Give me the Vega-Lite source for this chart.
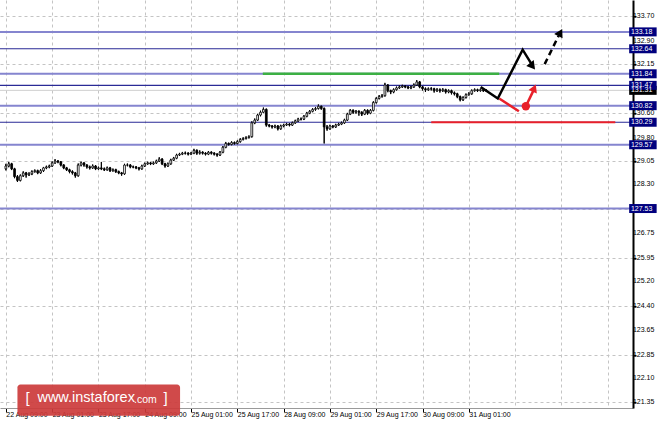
{
  "$schema": "https://vega.github.io/schema/vega-lite/v6.json",
  "width": 633,
  "height": 408,
  "autosize": {"type": "none"},
  "padding": {"left": 0, "top": 0, "right": 32, "bottom": 18},
  "background": "white",
  "config": {"view": {"stroke": null}, "font": "Liberation Sans", "axis": {"title": null}},
  "datasets": {
    "one": [{}],
    "yticks": [{"v":133.70},{"v":132.90},{"v":132.15},{"v":130.60},{"v":129.80},{"v":129.05},{"v":128.30},{"v":126.75},{"v":125.95},{"v":125.20},{"v":124.40},{"v":123.65},{"v":122.85},{"v":122.10},{"v":121.35}],
    "candles": [
      {"i":0,"o":128.80,"h":128.96,"l":128.75,"c":128.89},
      {"i":1,"o":128.89,"h":129.02,"l":128.85,"c":128.96},
      {"i":2,"o":128.96,"h":128.99,"l":128.76,"c":128.80},
      {"i":3,"o":128.80,"h":128.83,"l":128.50,"c":128.55},
      {"i":4,"o":128.55,"h":128.60,"l":128.38,"c":128.43},
      {"i":5,"o":128.43,"h":128.62,"l":128.40,"c":128.58},
      {"i":6,"o":128.58,"h":128.72,"l":128.54,"c":128.67},
      {"i":7,"o":128.67,"h":128.70,"l":128.52,"c":128.61},
      {"i":8,"o":128.61,"h":128.69,"l":128.57,"c":128.64},
      {"i":9,"o":128.64,"h":128.75,"l":128.60,"c":128.71},
      {"i":10,"o":128.71,"h":128.78,"l":128.68,"c":128.74},
      {"i":11,"o":128.74,"h":128.77,"l":128.63,"c":128.67},
      {"i":12,"o":128.67,"h":128.79,"l":128.64,"c":128.74},
      {"i":13,"o":128.74,"h":128.86,"l":128.70,"c":128.83},
      {"i":14,"o":128.83,"h":128.90,"l":128.79,"c":128.86},
      {"i":15,"o":128.86,"h":128.93,"l":128.82,"c":128.89},
      {"i":16,"o":128.89,"h":129.04,"l":128.86,"c":128.99},
      {"i":17,"o":128.99,"h":129.11,"l":128.96,"c":129.05},
      {"i":18,"o":129.05,"h":129.08,"l":128.98,"c":129.02},
      {"i":19,"o":129.02,"h":129.05,"l":128.88,"c":128.92},
      {"i":20,"o":128.92,"h":128.95,"l":128.79,"c":128.83},
      {"i":21,"o":128.83,"h":128.86,"l":128.73,"c":128.77},
      {"i":22,"o":128.77,"h":128.80,"l":128.66,"c":128.71},
      {"i":23,"o":128.71,"h":128.75,"l":128.62,"c":128.67},
      {"i":24,"o":128.67,"h":128.70,"l":128.52,"c":128.58},
      {"i":25,"o":128.58,"h":128.97,"l":128.55,"c":128.92},
      {"i":26,"o":128.92,"h":129.03,"l":128.88,"c":128.99},
      {"i":27,"o":128.99,"h":129.01,"l":128.87,"c":128.92},
      {"i":28,"o":128.92,"h":128.95,"l":128.81,"c":128.86},
      {"i":29,"o":128.86,"h":128.90,"l":128.78,"c":128.83},
      {"i":30,"o":128.83,"h":128.94,"l":128.80,"c":128.89},
      {"i":31,"o":128.89,"h":128.92,"l":128.76,"c":128.80},
      {"i":32,"o":128.80,"h":128.87,"l":128.77,"c":128.83},
      {"i":33,"o":128.83,"h":129.02,"l":128.76,"c":128.80},
      {"i":34,"o":128.80,"h":128.84,"l":128.73,"c":128.77},
      {"i":35,"o":128.77,"h":128.87,"l":128.74,"c":128.83},
      {"i":36,"o":128.83,"h":128.86,"l":128.70,"c":128.74},
      {"i":37,"o":128.74,"h":128.81,"l":128.71,"c":128.77},
      {"i":38,"o":128.77,"h":128.80,"l":128.67,"c":128.71},
      {"i":39,"o":128.71,"h":128.74,"l":128.63,"c":128.67},
      {"i":40,"o":128.67,"h":128.70,"l":128.58,"c":128.64},
      {"i":41,"o":128.64,"h":128.96,"l":128.61,"c":128.92},
      {"i":42,"o":128.92,"h":128.97,"l":128.88,"c":128.92},
      {"i":43,"o":128.92,"h":128.95,"l":128.82,"c":128.86},
      {"i":44,"o":128.86,"h":128.90,"l":128.82,"c":128.86},
      {"i":45,"o":128.86,"h":128.89,"l":128.79,"c":128.83},
      {"i":46,"o":128.83,"h":128.86,"l":128.75,"c":128.80},
      {"i":47,"o":128.80,"h":128.93,"l":128.77,"c":128.89},
      {"i":48,"o":128.89,"h":129.00,"l":128.86,"c":128.96},
      {"i":49,"o":128.96,"h":129.03,"l":128.93,"c":128.99},
      {"i":50,"o":128.99,"h":129.02,"l":128.92,"c":128.96},
      {"i":51,"o":128.96,"h":129.03,"l":128.93,"c":128.99},
      {"i":52,"o":128.99,"h":129.09,"l":128.96,"c":129.05},
      {"i":53,"o":129.05,"h":129.17,"l":129.02,"c":129.11},
      {"i":54,"o":129.11,"h":129.14,"l":128.92,"c":128.96},
      {"i":55,"o":128.96,"h":128.99,"l":128.84,"c":128.89},
      {"i":56,"o":128.89,"h":129.00,"l":128.86,"c":128.96},
      {"i":57,"o":128.96,"h":129.12,"l":128.93,"c":129.08},
      {"i":58,"o":129.08,"h":129.18,"l":129.05,"c":129.14},
      {"i":59,"o":129.14,"h":129.28,"l":129.11,"c":129.24},
      {"i":60,"o":129.24,"h":129.31,"l":129.21,"c":129.27},
      {"i":61,"o":129.27,"h":129.34,"l":129.24,"c":129.30},
      {"i":62,"o":129.30,"h":129.35,"l":129.26,"c":129.30},
      {"i":63,"o":129.30,"h":129.33,"l":129.23,"c":129.27},
      {"i":64,"o":129.27,"h":129.34,"l":129.24,"c":129.30},
      {"i":65,"o":129.30,"h":129.44,"l":129.27,"c":129.39},
      {"i":66,"o":129.39,"h":129.42,"l":129.25,"c":129.30},
      {"i":67,"o":129.30,"h":129.39,"l":129.26,"c":129.33},
      {"i":68,"o":129.33,"h":129.36,"l":129.26,"c":129.30},
      {"i":69,"o":129.30,"h":129.33,"l":129.23,"c":129.27},
      {"i":70,"o":129.27,"h":129.37,"l":129.24,"c":129.33},
      {"i":71,"o":129.33,"h":129.36,"l":129.26,"c":129.30},
      {"i":72,"o":129.30,"h":129.33,"l":129.23,"c":129.27},
      {"i":73,"o":129.27,"h":129.30,"l":129.19,"c":129.24},
      {"i":74,"o":129.24,"h":129.37,"l":129.21,"c":129.33},
      {"i":75,"o":129.33,"h":129.53,"l":129.30,"c":129.49},
      {"i":76,"o":129.49,"h":129.66,"l":129.46,"c":129.61},
      {"i":77,"o":129.61,"h":129.64,"l":129.54,"c":129.58},
      {"i":78,"o":129.58,"h":129.68,"l":129.55,"c":129.64},
      {"i":79,"o":129.64,"h":129.67,"l":129.57,"c":129.61},
      {"i":80,"o":129.61,"h":129.71,"l":129.58,"c":129.67},
      {"i":81,"o":129.67,"h":129.78,"l":129.64,"c":129.74},
      {"i":82,"o":129.74,"h":129.81,"l":129.71,"c":129.77},
      {"i":83,"o":129.77,"h":129.84,"l":129.74,"c":129.80},
      {"i":84,"o":129.80,"h":129.87,"l":129.77,"c":129.83},
      {"i":85,"o":129.83,"h":130.32,"l":129.80,"c":130.27},
      {"i":86,"o":130.27,"h":130.41,"l":130.23,"c":130.36},
      {"i":87,"o":130.36,"h":130.56,"l":130.33,"c":130.52},
      {"i":88,"o":130.52,"h":130.66,"l":130.48,"c":130.61},
      {"i":89,"o":130.61,"h":130.76,"l":130.58,"c":130.70},
      {"i":90,"o":130.70,"h":130.73,"l":130.15,"c":130.20},
      {"i":91,"o":130.20,"h":130.23,"l":130.13,"c":130.17},
      {"i":92,"o":130.17,"h":130.20,"l":130.09,"c":130.14},
      {"i":93,"o":130.14,"h":130.21,"l":130.10,"c":130.17},
      {"i":94,"o":130.17,"h":130.20,"l":130.03,"c":130.08},
      {"i":95,"o":130.08,"h":130.21,"l":130.05,"c":130.17},
      {"i":96,"o":130.17,"h":130.24,"l":130.13,"c":130.20},
      {"i":97,"o":130.20,"h":130.27,"l":130.17,"c":130.23},
      {"i":98,"o":130.23,"h":130.26,"l":130.16,"c":130.20},
      {"i":99,"o":130.20,"h":130.31,"l":130.17,"c":130.27},
      {"i":100,"o":130.27,"h":130.37,"l":130.24,"c":130.33},
      {"i":101,"o":130.33,"h":130.43,"l":130.30,"c":130.39},
      {"i":102,"o":130.39,"h":130.44,"l":130.35,"c":130.39},
      {"i":103,"o":130.39,"h":130.52,"l":130.36,"c":130.48},
      {"i":104,"o":130.48,"h":130.62,"l":130.45,"c":130.58},
      {"i":105,"o":130.58,"h":130.68,"l":130.55,"c":130.64},
      {"i":106,"o":130.64,"h":130.74,"l":130.61,"c":130.70},
      {"i":107,"o":130.70,"h":130.78,"l":130.66,"c":130.73},
      {"i":108,"o":130.73,"h":130.86,"l":130.70,"c":130.80},
      {"i":109,"o":130.80,"h":130.83,"l":130.69,"c":130.73},
      {"i":110,"o":130.73,"h":130.76,"l":129.61,"c":130.14},
      {"i":111,"o":130.14,"h":130.20,"l":130.02,"c":130.08},
      {"i":112,"o":130.08,"h":130.21,"l":130.05,"c":130.17},
      {"i":113,"o":130.17,"h":130.20,"l":130.10,"c":130.14},
      {"i":114,"o":130.14,"h":130.24,"l":130.11,"c":130.20},
      {"i":115,"o":130.20,"h":130.27,"l":130.17,"c":130.23},
      {"i":116,"o":130.23,"h":130.31,"l":130.20,"c":130.27},
      {"i":117,"o":130.27,"h":130.40,"l":130.24,"c":130.36},
      {"i":118,"o":130.36,"h":130.59,"l":130.33,"c":130.55},
      {"i":119,"o":130.55,"h":130.71,"l":130.52,"c":130.67},
      {"i":120,"o":130.67,"h":130.70,"l":130.56,"c":130.61},
      {"i":121,"o":130.61,"h":130.68,"l":130.57,"c":130.64},
      {"i":122,"o":130.64,"h":130.67,"l":130.50,"c":130.61},
      {"i":123,"o":130.61,"h":130.64,"l":130.49,"c":130.55},
      {"i":124,"o":130.55,"h":130.71,"l":130.52,"c":130.67},
      {"i":125,"o":130.67,"h":130.70,"l":130.53,"c":130.58},
      {"i":126,"o":130.58,"h":130.71,"l":130.55,"c":130.67},
      {"i":127,"o":130.67,"h":130.96,"l":130.64,"c":130.92},
      {"i":128,"o":130.92,"h":131.09,"l":130.89,"c":131.05},
      {"i":129,"o":131.05,"h":131.16,"l":131.02,"c":131.11},
      {"i":130,"o":131.11,"h":131.19,"l":131.08,"c":131.14},
      {"i":131,"o":131.14,"h":131.55,"l":131.11,"c":131.48},
      {"i":132,"o":131.48,"h":131.51,"l":131.25,"c":131.30},
      {"i":133,"o":131.30,"h":131.33,"l":131.19,"c":131.26},
      {"i":134,"o":131.26,"h":131.37,"l":131.22,"c":131.33},
      {"i":135,"o":131.33,"h":131.43,"l":131.30,"c":131.39},
      {"i":136,"o":131.39,"h":131.47,"l":131.36,"c":131.42},
      {"i":137,"o":131.42,"h":131.49,"l":131.39,"c":131.45},
      {"i":138,"o":131.45,"h":131.48,"l":131.38,"c":131.42},
      {"i":139,"o":131.42,"h":131.45,"l":131.35,"c":131.39},
      {"i":140,"o":131.39,"h":131.46,"l":131.35,"c":131.42},
      {"i":141,"o":131.42,"h":131.53,"l":131.39,"c":131.48},
      {"i":142,"o":131.48,"h":131.64,"l":131.45,"c":131.58},
      {"i":143,"o":131.58,"h":131.61,"l":131.38,"c":131.42},
      {"i":144,"o":131.42,"h":131.45,"l":131.30,"c":131.36},
      {"i":145,"o":131.36,"h":131.40,"l":131.26,"c":131.33},
      {"i":146,"o":131.33,"h":131.40,"l":131.29,"c":131.36},
      {"i":147,"o":131.36,"h":131.41,"l":131.30,"c":131.36},
      {"i":148,"o":131.36,"h":131.39,"l":131.24,"c":131.30},
      {"i":149,"o":131.30,"h":131.38,"l":131.26,"c":131.33},
      {"i":150,"o":131.33,"h":131.37,"l":131.24,"c":131.30},
      {"i":151,"o":131.30,"h":131.38,"l":131.26,"c":131.33},
      {"i":152,"o":131.33,"h":131.36,"l":131.21,"c":131.26},
      {"i":153,"o":131.26,"h":131.34,"l":131.22,"c":131.30},
      {"i":154,"o":131.30,"h":131.33,"l":131.18,"c":131.23},
      {"i":155,"o":131.23,"h":131.27,"l":131.15,"c":131.20},
      {"i":156,"o":131.20,"h":131.23,"l":131.06,"c":131.11},
      {"i":157,"o":131.11,"h":131.14,"l":130.96,"c":131.01},
      {"i":158,"o":131.01,"h":131.12,"l":130.97,"c":131.08},
      {"i":159,"o":131.08,"h":131.21,"l":131.05,"c":131.17},
      {"i":160,"o":131.17,"h":131.25,"l":131.14,"c":131.20},
      {"i":161,"o":131.20,"h":131.34,"l":131.17,"c":131.30},
      {"i":162,"o":131.30,"h":131.37,"l":131.27,"c":131.33},
      {"i":163,"o":131.33,"h":131.36,"l":131.26,"c":131.30},
      {"i":164,"o":131.30,"h":131.37,"l":131.27,"c":131.33},
      {"i":165,"o":131.33,"h":131.36,"l":131.26,"c":131.30},
      {"i":166,"o":131.30,"h":131.35,"l":131.27,"c":131.31}
    ],
    "levels": [
      {"v":133.18,"kind":"minor"},
      {"v":132.64,"kind":"major"},
      {"v":131.84,"kind":"minor"},
      {"v":131.47,"kind":"major"},
      {"v":130.82,"kind":"minor"},
      {"v":130.29,"kind":"major"},
      {"v":129.57,"kind":"minor"},
      {"v":127.53,"kind":"minor"}
    ],
    "tags": [
      {"v":131.31,"kind":"bid"},
      {"v":133.18,"kind":"level"},
      {"v":132.64,"kind":"level"},
      {"v":131.84,"kind":"level"},
      {"v":131.47,"kind":"level"},
      {"v":130.82,"kind":"level"},
      {"v":130.29,"kind":"level"},
      {"v":129.57,"kind":"level"},
      {"v":127.53,"kind":"level"}
    ],
    "zig": [
      {"i":164.1,"p":131.42},
      {"i":170.0,"p":131.05},
      {"i":178.6,"p":132.61},
      {"i":182.0,"p":132.10}
    ],
    "dash": [
      {"i":186.2,"p":132.15},
      {"i":191.0,"p":133.05}
    ],
    "reddiag": [
      {"i":170.5,"p":131.05},
      {"i":177.3,"p":130.64}
    ],
    "redarrow": [
      {"i":179.7,"p":130.80},
      {"i":182.3,"p":131.30}
    ]
  },
  "layer": [
    {
      "data": {"name": "candles"},
      "mark": {"type": "rule", "color": "#000000", "strokeWidth": 1},
      "encoding": {
        "x": {
          "field": "i", "type": "quantitative",
          "scale": {"domain": [-0.3, 215], "nice": false, "zero": false},
          "axis": {
            "title": null,
            "values": [0,8,16,24,32,40,48,56,64,72,80,88,96,104,112,120,128,136,144,152,160,168,176,184,192,200,208],
            "labelExpr": "(datum.value % 16 === 0 && datum.value <= 160) ? ['22 Aug 09:00','23 Aug 01:00','23 Aug 17:00','24 Aug 09:00','25 Aug 01:00','25 Aug 17:00','28 Aug 09:00','29 Aug 01:00','29 Aug 17:00','30 Aug 09:00','31 Aug 01:00'][datum.value / 16] : ''",
            "labelAlign": "left",
            "labelFont": "Liberation Sans",
            "labelFontSize": 7,
            "labelColor": "#000000",
            "labelPadding": -2,
            "labelDx": 2,
            "labelOverlap": false,
            "labelBound": false,
            "labelFlush": false,
            "tickColor": "#000000",
            "tickSize": 4,
            "tickOpacity": {"condition": {"test": "datum.value % 16 === 0 && datum.value <= 160", "value": 1}, "value": 0},
            "grid": true,
            "gridColor": "#c4c4c4",
            "gridDash": [3, 3],
            "gridWidth": 1,
            "domainColor": "#9a9a9a",
            "domainWidth": 1
          }
        },
        "y": {
          "field": "l", "type": "quantitative",
          "scale": {"domain": [121.31, 134.04], "nice": false, "zero": false},
          "axis": {
            "title": null,
            "orient": "right",
            "values": [133.70,132.90,132.15,131.35,130.60,129.80,129.05,128.30,127.50,126.75,125.95,125.20,124.40,123.65,122.85,122.10,121.35],
            "labels": false,
            "tickColor": "#000000",
            "tickSize": 3,
            "grid": true,
            "gridColor": "#c4c4c4",
            "gridDash": [3, 3],
            "gridWidth": 1,
            "domainColor": "#000000",
            "domainWidth": 2
          }
        },
        "y2": {"field": "h"}
      }
    },
    {
      "data": {"name": "levels"},
      "mark": {"type": "rule"},
      "encoding": {
        "y": {"field": "v", "type": "quantitative"},
        "stroke": {"condition": {"test": "datum.kind === 'major'", "value": "#2a2a96"}, "value": "#8585cf"},
        "strokeWidth": {"condition": {"test": "datum.kind === 'major'", "value": 1.2}, "value": 2}
      }
    },
    {
      "data": {"name": "one"},
      "mark": {"type": "rule", "color": "#cfcfcf", "strokeWidth": 1},
      "encoding": {"y": {"datum": 131.31, "type": "quantitative"}}
    },
    {
      "data": {"name": "candles"},
      "mark": {"type": "rule", "color": "#000000", "strokeWidth": 1},
      "encoding": {
        "x": {"field": "i", "type": "quantitative"},
        "y": {"field": "l", "type": "quantitative"},
        "y2": {"field": "h"}
      }
    },
    {
      "data": {"name": "candles"},
      "mark": {"type": "bar", "orient": "vertical", "width": 1.8, "stroke": "#000000", "strokeWidth": 0.8},
      "encoding": {
        "x": {"field": "i", "type": "quantitative"},
        "y": {"field": "o", "type": "quantitative"},
        "y2": {"field": "c"},
        "fill": {"condition": {"test": "datum.c >= datum.o", "value": "#ffffff"}, "value": "#000000"}
      }
    },
    {
      "data": {"name": "one"},
      "mark": {"type": "rule", "color": "#3cb043", "strokeWidth": 2.5},
      "encoding": {
        "x": {"datum": 88.8, "type": "quantitative"},
        "x2": {"datum": 170.5},
        "y": {"datum": 131.84, "type": "quantitative"}
      }
    },
    {
      "data": {"name": "one"},
      "mark": {"type": "rule", "color": "#e8202a", "strokeWidth": 2},
      "encoding": {
        "x": {"datum": 147.0, "type": "quantitative"},
        "x2": {"datum": 210.6},
        "y": {"datum": 130.29, "type": "quantitative"}
      }
    },
    {
      "data": {"name": "reddiag"},
      "mark": {"type": "line", "color": "#e8202a", "strokeWidth": 2.5},
      "encoding": {
        "x": {"field": "i", "type": "quantitative"},
        "y": {"field": "p", "type": "quantitative"}
      }
    },
    {
      "data": {"name": "redarrow"},
      "mark": {"type": "line", "color": "#e8202a", "strokeWidth": 2.5},
      "encoding": {
        "x": {"field": "i", "type": "quantitative"},
        "y": {"field": "p", "type": "quantitative"}
      }
    },
    {
      "data": {"name": "one"},
      "mark": {"type": "point", "shape": "circle", "filled": true, "size": 70, "color": "#e8202a", "opacity": 1},
      "encoding": {
        "x": {"datum": 179.7, "type": "quantitative"},
        "y": {"datum": 130.80, "type": "quantitative"}
      }
    },
    {
      "data": {"name": "one"},
      "mark": {"type": "point", "shape": "triangle-up", "filled": true, "size": 80, "angle": 23, "color": "#e8202a", "opacity": 1},
      "encoding": {
        "x": {"datum": 182.6, "type": "quantitative"},
        "y": {"datum": 131.38, "type": "quantitative"}
      }
    },
    {
      "data": {"name": "zig"},
      "mark": {"type": "line", "color": "#000000", "strokeWidth": 2.5},
      "encoding": {
        "x": {"field": "i", "type": "quantitative"},
        "y": {"field": "p", "type": "quantitative"}
      }
    },
    {
      "data": {"name": "one"},
      "mark": {"type": "point", "shape": "triangle-up", "filled": true, "size": 90, "angle": 142, "color": "#000000", "opacity": 1},
      "encoding": {
        "x": {"datum": 182.0, "type": "quantitative"},
        "y": {"datum": 132.08, "type": "quantitative"}
      }
    },
    {
      "data": {"name": "dash"},
      "mark": {"type": "line", "color": "#000000", "strokeWidth": 2.5, "strokeDash": [6, 4]},
      "encoding": {
        "x": {"field": "i", "type": "quantitative"},
        "y": {"field": "p", "type": "quantitative"}
      }
    },
    {
      "data": {"name": "one"},
      "mark": {"type": "point", "shape": "triangle-up", "filled": true, "size": 90, "angle": 28, "color": "#000000", "opacity": 1},
      "encoding": {
        "x": {"datum": 191.6, "type": "quantitative"},
        "y": {"datum": 133.16, "type": "quantitative"}
      }
    },
    {
      "data": {"name": "yticks"},
      "mark": {"type": "text", "align": "left", "baseline": "middle", "font": "Liberation Sans", "fontSize": 7, "color": "#000000"},
      "encoding": {
        "x": {"datum": 216.7, "type": "quantitative"},
        "y": {"field": "v", "type": "quantitative"},
        "text": {"field": "v", "type": "quantitative", "format": ".2f"}
      }
    },
    {
      "data": {"name": "tags"},
      "mark": {"type": "bar", "orient": "horizontal"},
      "encoding": {
        "x": {"datum": 215.4, "type": "quantitative"},
        "x2": {"datum": 224.9},
        "y": {"field": "v", "type": "quantitative"},
        "size": {"value": 9},
        "fill": {"condition": {"test": "datum.kind === 'bid'", "value": "#000000"}, "value": "#00007e"}
      }
    },
    {
      "data": {"name": "tags"},
      "mark": {"type": "text", "align": "left", "baseline": "middle", "font": "Liberation Sans", "fontSize": 7, "color": "#ffffff"},
      "encoding": {
        "x": {"datum": 216.0, "type": "quantitative"},
        "y": {"field": "v", "type": "quantitative"},
        "text": {"field": "v", "type": "quantitative", "format": ".2f"}
      }
    },
    {
      "data": {"name": "one"},
      "mark": {"type": "rect", "color": "#cc3b3b", "opacity": 0.92, "cornerRadius": 3},
      "encoding": {
        "x": {"datum": 4.0, "type": "quantitative"},
        "x2": {"datum": 60.2},
        "y": {"datum": 121.90, "type": "quantitative"},
        "y2": {"datum": 120.90}
      }
    },
    {
      "data": {"name": "one"},
      "mark": {"type": "text", "align": "left", "baseline": "middle", "font": "Liberation Sans", "fontSize": 15, "color": "#ffffff", "text": "["},
      "encoding": {
        "x": {"datum": 6.8, "type": "quantitative"},
        "y": {"datum": 121.47, "type": "quantitative"}
      }
    },
    {
      "data": {"name": "one"},
      "mark": {"type": "text", "align": "left", "baseline": "middle", "font": "Liberation Sans", "fontSize": 14.5, "color": "#ffffff", "text": "www.instaforex"},
      "encoding": {
        "x": {"datum": 10.9, "type": "quantitative"},
        "y": {"datum": 121.47, "type": "quantitative"}
      }
    },
    {
      "data": {"name": "one"},
      "mark": {"type": "text", "align": "left", "baseline": "middle", "font": "Liberation Sans", "fontSize": 10.5, "color": "#ffffff", "text": ".com"},
      "encoding": {
        "x": {"datum": 44.3, "type": "quantitative"},
        "y": {"datum": 121.39, "type": "quantitative"}
      }
    },
    {
      "data": {"name": "one"},
      "mark": {"type": "text", "align": "left", "baseline": "middle", "font": "Liberation Sans", "fontSize": 15, "color": "#ffffff", "text": "]"},
      "encoding": {
        "x": {"datum": 54.5, "type": "quantitative"},
        "y": {"datum": 121.47, "type": "quantitative"}
      }
    }
  ]
}
